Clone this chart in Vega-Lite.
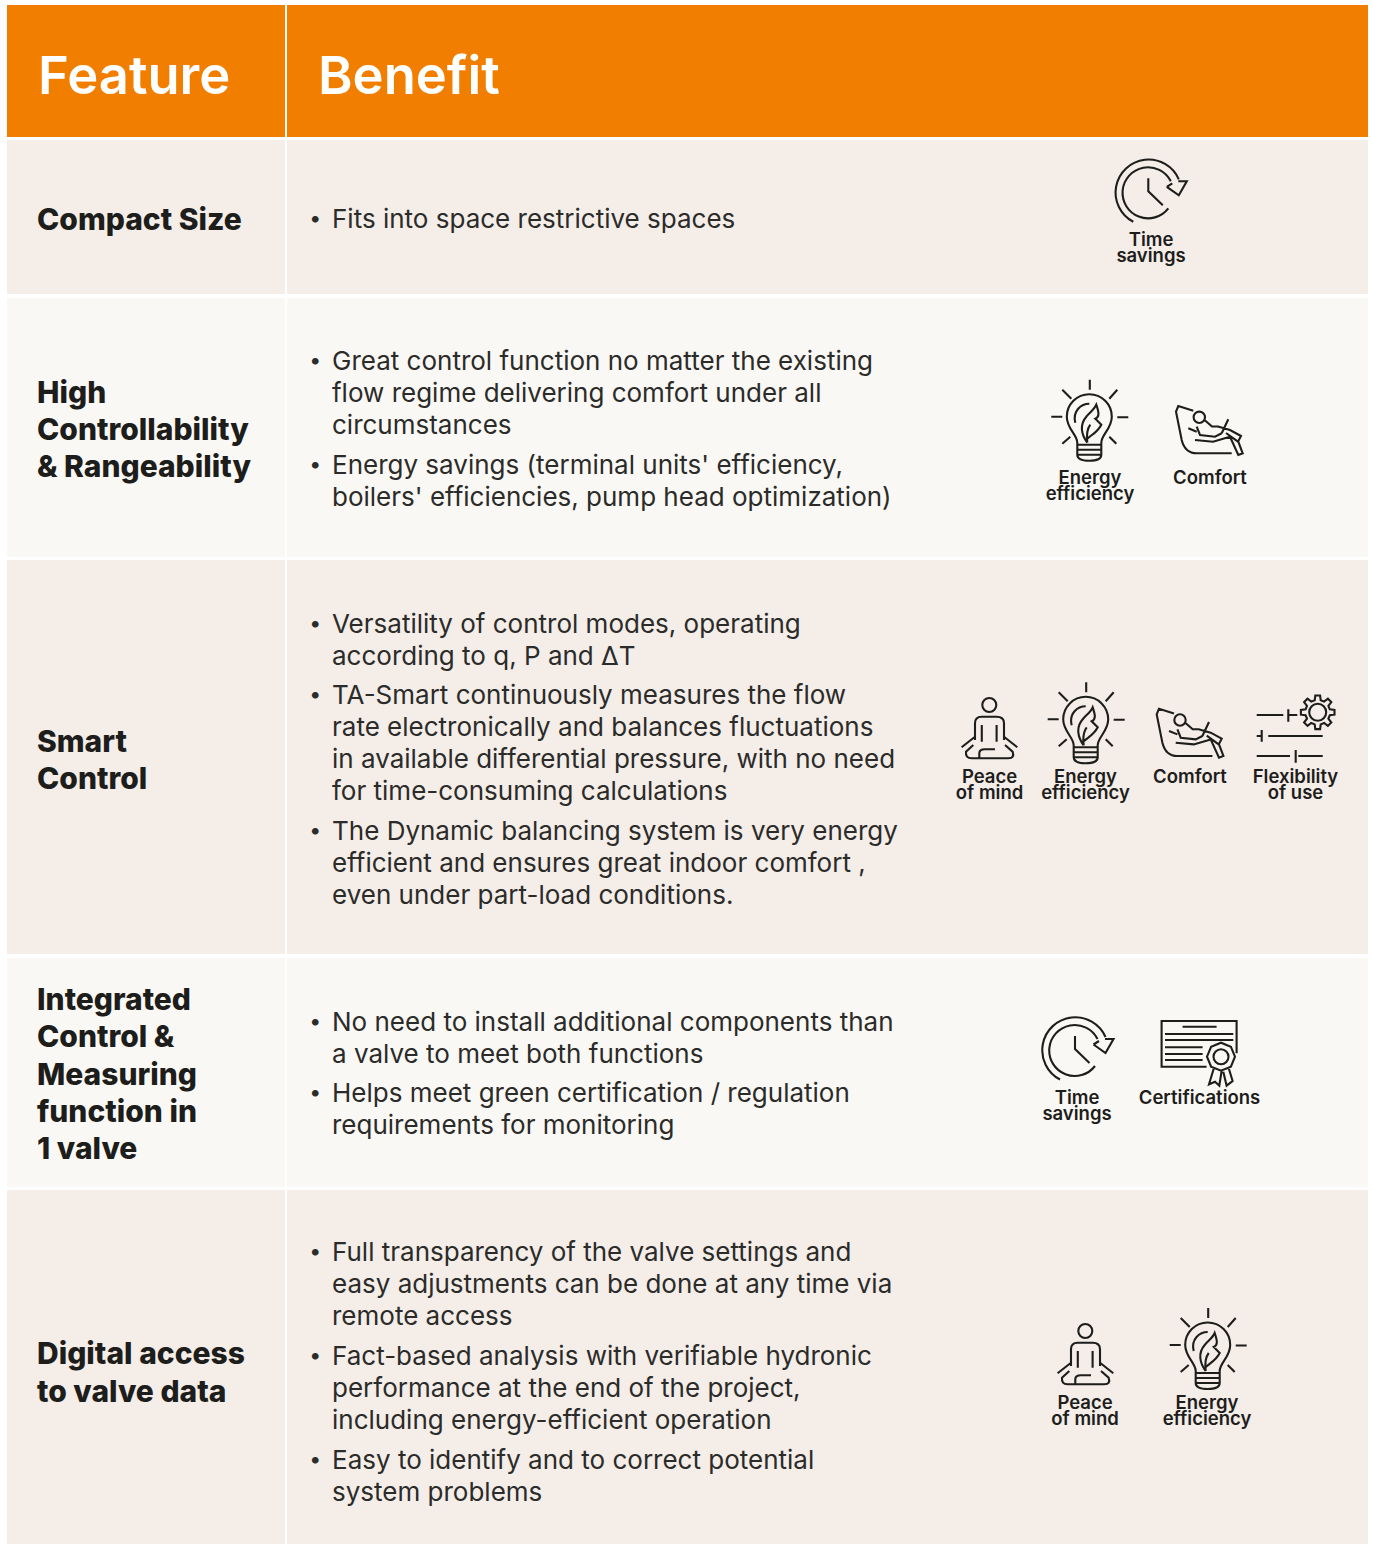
{
"$schema":"https://vega.github.io/schema/vega-lite/v6.json",
"width":1373,"height":1544,"padding":0,
"autosize":{"type":"fit","contains":"padding"},
"background":"#ffffff",
"config":{"view":{"stroke":null}},
"datasets":{
"cells":[
{"x0":7,"x1":285,"y0":5,"y1":137,"tone":"head"},{"x0":287,"x1":1368,"y0":5,"y1":137,"tone":"head"},
{"x0":7,"x1":285,"y0":140,"y1":294,"tone":"dark"},{"x0":287,"x1":1368,"y0":140,"y1":294,"tone":"dark"},
{"x0":7,"x1":285,"y0":298,"y1":557,"tone":"light"},{"x0":287,"x1":1368,"y0":298,"y1":557,"tone":"light"},
{"x0":7,"x1":285,"y0":560,"y1":954,"tone":"dark"},{"x0":287,"x1":1368,"y0":560,"y1":954,"tone":"dark"},
{"x0":7,"x1":285,"y0":958,"y1":1187,"tone":"light"},{"x0":287,"x1":1368,"y0":958,"y1":1187,"tone":"light"},
{"x0":7,"x1":285,"y0":1190,"y1":1544,"tone":"dark"},{"x0":287,"x1":1368,"y0":1190,"y1":1544,"tone":"dark"}
],
"texts":[
{"kind":"head","x":38,"y":78,"t":"Feature"},{"kind":"head","x":318,"y":78,"t":"Benefit"},
{"kind":"feat","x":37,"y":221,"t":"Compact Size"},
{"kind":"feat","x":37,"y":394,"t":"High"},{"kind":"feat","x":37,"y":431,"t":"Controllability"},{"kind":"feat","x":37,"y":468,"t":"& Rangeability"},
{"kind":"feat","x":37,"y":743,"t":"Smart"},{"kind":"feat","x":37,"y":780,"t":"Control"},
{"kind":"feat","x":37,"y":1001,"t":"Integrated"},{"kind":"feat","x":37,"y":1038,"t":"Control &"},{"kind":"feat","x":37,"y":1076,"t":"Measuring"},{"kind":"feat","x":37,"y":1113,"t":"function in"},{"kind":"feat","x":37,"y":1150,"t":"1 valve"},
{"kind":"feat","x":37,"y":1355,"t":"Digital access"},{"kind":"feat","x":37,"y":1393,"t":"to valve data"},
{"kind":"body","x":332,"y":220,"t":"Fits into space restrictive spaces"},
{"kind":"body","x":332,"y":362,"t":"Great control function no matter the existing"},
{"kind":"body","x":332,"y":394,"t":"flow regime delivering comfort under all"},
{"kind":"body","x":332,"y":426,"t":"circumstances"},
{"kind":"body","x":332,"y":466,"t":"Energy savings (terminal units' efficiency,"},
{"kind":"body","x":332,"y":498,"t":"boilers' efficiencies, pump head optimization)"},
{"kind":"body","x":332,"y":625,"t":"Versatility of control modes, operating"},
{"kind":"body","x":332,"y":657,"t":"according to q, P and ΔT"},
{"kind":"body","x":332,"y":696,"t":"TA-Smart continuously measures the flow"},
{"kind":"body","x":332,"y":728,"t":"rate electronically and balances fluctuations"},
{"kind":"body","x":332,"y":760,"t":"in available differential pressure, with no need"},
{"kind":"body","x":332,"y":792,"t":"for time-consuming calculations"},
{"kind":"body","x":332,"y":832,"t":"The Dynamic balancing system is very energy"},
{"kind":"body","x":332,"y":864,"t":"efficient and ensures great indoor comfort ,"},
{"kind":"body","x":332,"y":896,"t":"even under part-load conditions."},
{"kind":"body","x":332,"y":1023,"t":"No need to install additional components than"},
{"kind":"body","x":332,"y":1055,"t":"a valve to meet both functions"},
{"kind":"body","x":332,"y":1094,"t":"Helps meet green certification / regulation"},
{"kind":"body","x":332,"y":1126,"t":"requirements for monitoring"},
{"kind":"body","x":332,"y":1253,"t":"Full transparency of the valve settings and"},
{"kind":"body","x":332,"y":1285,"t":"easy adjustments can be done at any time via"},
{"kind":"body","x":332,"y":1317,"t":"remote access"},
{"kind":"body","x":332,"y":1357,"t":"Fact-based analysis with verifiable hydronic"},
{"kind":"body","x":332,"y":1389,"t":"performance at the end of the project,"},
{"kind":"body","x":332,"y":1421,"t":"including energy-efficient operation"},
{"kind":"body","x":332,"y":1461,"t":"Easy to identify and to correct potential"},
{"kind":"body","x":332,"y":1493,"t":"system problems"},
{"kind":"bullet","x":310,"y":220,"t":"•"},{"kind":"bullet","x":310,"y":362,"t":"•"},{"kind":"bullet","x":310,"y":466,"t":"•"},{"kind":"bullet","x":310,"y":625,"t":"•"},{"kind":"bullet","x":310,"y":696,"t":"•"},{"kind":"bullet","x":310,"y":832,"t":"•"},{"kind":"bullet","x":310,"y":1023,"t":"•"},{"kind":"bullet","x":310,"y":1094,"t":"•"},{"kind":"bullet","x":310,"y":1253,"t":"•"},{"kind":"bullet","x":310,"y":1357,"t":"•"},{"kind":"bullet","x":310,"y":1461,"t":"•"},
{"kind":"label","x":1151,"y":240,"t":"Time"},{"kind":"label","x":1151,"y":256,"t":"savings"},
{"kind":"label","x":1090,"y":478,"t":"Energy"},{"kind":"label","x":1090,"y":494,"t":"efficiency"},{"kind":"label","x":1210,"y":478,"t":"Comfort"},
{"kind":"label","x":989.5,"y":777,"t":"Peace"},{"kind":"label","x":989.5,"y":793,"t":"of mind"},{"kind":"label","x":1085.5,"y":777,"t":"Energy"},{"kind":"label","x":1085.5,"y":793,"t":"efficiency"},{"kind":"label","x":1190,"y":777,"t":"Comfort"},{"kind":"label","x":1295.5,"y":777,"t":"Flexibility"},{"kind":"label","x":1295.5,"y":793,"t":"of use"},
{"kind":"label","x":1077,"y":1098,"t":"Time"},{"kind":"label","x":1077,"y":1114,"t":"savings"},{"kind":"label","x":1199.5,"y":1098,"t":"Certifications"},
{"kind":"label","x":1085,"y":1403,"t":"Peace"},{"kind":"label","x":1085,"y":1419,"t":"of mind"},{"kind":"label","x":1207,"y":1403,"t":"Energy"},{"kind":"label","x":1207,"y":1419,"t":"efficiency"}
],
"icons":[
{"icon":"time","x":1148.3,"y":192.3},{"icon":"energy","x":1089.3,"y":416.7},{"icon":"comfort","x":1210,"y":430},
{"icon":"peace","x":989.3,"y":730},{"icon":"energy","x":1085.7,"y":719.3},{"icon":"comfort","x":1190.7,"y":732.7},{"icon":"flex","x":1295,"y":730},{"icon":"gear","x":1317.7,"y":712.3},
{"icon":"time","x":1075,"y":1050},{"icon":"cert","x":1198.3,"y":1045},
{"icon":"peace","x":1085.3,"y":1356},{"icon":"energy","x":1207.7,"y":1345}
]
},
"encoding":{
"x":{"field":"x","type":"quantitative","axis":null,"scale":{"domain":[0,1373],"nice":false,"zero":false}},
"y":{"field":"y","type":"quantitative","axis":null,"scale":{"domain":[0,1544],"reverse":true,"nice":false,"zero":false}}
},
"layer":[
{"data":{"name":"cells"},"mark":{"type":"rect"},
"encoding":{"x":{"field":"x0","type":"quantitative","axis":null,"scale":{"domain":[0,1373],"nice":false,"zero":false}},"x2":{"field":"x1"},"y":{"field":"y0","type":"quantitative","axis":null,"scale":{"domain":[0,1544],"reverse":true,"nice":false,"zero":false}},"y2":{"field":"y1"},
"color":{"field":"tone","type":"nominal","legend":null,"scale":{"domain":["head","dark","light"],"range":["#f27e00","#f4ede8","#faf8f4"]}}}},
{"data":{"name":"icons"},"mark":{"type":"point","filled":false,"stroke":"#1d1d1b","strokeWidth":2.1,"size":4,"opacity":1},
"encoding":{"shape":{"field":"icon","type":"nominal","legend":null,"scale":{"domain":["time","energy","comfort","peace","flex","gear","cert"],"range":[
"M-15 29.5A33 33 0 1 1 30.5 -13M20 16A25.5 25.5 0 1 1 22.5 -11M18.5 -5.5L30.5 3L38.5 -11L30 -11M18.5 -5.5L24 -9M0 -14V-1L14.5 13",
"M-12 26C-12 18 -22.5 12 -22.5 0A22.5 22.5 0 1 1 22.5 0C22.5 12 12 18 12 26M-12 28H12M-12 33H12M-12 38H12M-12 26V38Q-12 44 0 44Q12 44 12 38V26M0.5 -37V-27M-27 -27L-18 -18M28 -27L20 -18M-38 0H-27M28 0.5H39M-27 27L-19 20M27 27L20 20M-14 6C-17 -6 -8 -13 0 -13M-2 26C-8 18 -10 8 -3 0C0 -4 5 -7 7 -12C9 -6 11 0 6 2L12 8C8 16 2 18 -2 22M-2 26C-3 18 -2 12 1 8",
"M-16.7 -19.3L-31.7 -24L-34 -18.3L-28.3 10Q-25 23.3 -13.3 23.3H21.7M-5.5 -10L2 -3.5L8 -3.5L20 0L31 6L28 11.7L16 3M20 6.7L28.3 25L32.7 23.3L28.3 11.7M18.3 -10.7L11.7 3.3M-13.3 -3.3L-10 5L5 6.7L11.7 3.3M-21.7 -1.7L-13.3 1.7M-15 10L3 11.7L20 6.7M-5 -12.7A5.7 5.7 0 1 1 -16.4 -12.7A5.7 5.7 0 1 1 -5 -12.7",
"M7 -25A7 7 0 1 1 -7 -25A7 7 0 1 1 7 -25M-14.3 10V-6.7Q-14.3 -13.3 -7.7 -13.3H7.3Q14.7 -13.3 14.7 -6.7V10M-14.3 6.7L-27.7 17.3M14.7 6.7L28 17.3M-16 15L-23.3 21.7Q-24 28.3 -17.7 28.3H19Q25.7 28.3 23.3 21.7L15.7 15M-10 28.3V23.3Q-10 19.3 -4.3 19.3H5.7M7.3 -5V11.7M-7.5 -5V11.7",
"M-38.3 -15H-11.7M-6.7 -20.7V-8.3M-6.7 -15H2.3M-38.3 6H-33.3M-33.3 0V11.7M-26.7 6H27.7M-38.3 26H-5M0.7 20V32.7M3.3 26H27.7",
"M12.1 -3L16.8 -2.4L16.8 2.4L12.1 3L10.7 6.4L13.6 10.2L10.2 13.6L6.4 10.7L3 12.1L2.4 16.8L-2.4 16.8L-3 12.1L-6.4 10.7L-10.2 13.6L-13.6 10.2L-10.7 6.4L-12.1 3L-16.8 2.4L-16.8 -2.4L-12.1 -3L-10.7 -6.4L-13.6 -10.2L-10.2 -13.6L-6.4 -10.7L-3 -12.1L-2.4 -16.8L2.4 -16.8L3 -12.1L6.4 -10.7L10.2 -13.6L13.6 -10.2L10.7 -6.4ZM8.5 0A8.5 8.5 0 1 1 -8.5 0A8.5 8.5 0 1 1 8.5 0",
"M8.3 21.7H-36.7V-24H38.3V8.3M-15.7 -18.3H18.3M-33.3 -11H35M-33.3 -5H35M-33.3 2.3H4.3M-33.3 9H4.3M-33.3 15H4.3M36.7 11.7L32.6 21.6L22.7 25.7L12.8 21.6L8.7 11.7L12.8 1.8L22.7 -2.3L32.6 1.8ZM30.2 11.7A7.5 7.5 0 1 0 15.2 11.7A7.5 7.5 0 1 0 30.2 11.7M15.7 22.7L10.7 39.3L16.7 36.7L21 40.7L23.3 26M25 26.7L28.3 40.7L34.3 36L30.3 22.7"
]}}}},
{"data":{"name":"texts"},"transform":[{"filter":"datum.kind==='head'"}],"mark":{"type":"text","align":"left","baseline":"middle","font":"Inter","fontSize":52.5,"fontWeight":600,"fill":"#ffffff"},"encoding":{"text":{"field":"t"}}},
{"data":{"name":"texts"},"transform":[{"filter":"datum.kind==='feat'"}],"mark":{"type":"text","align":"left","baseline":"middle","font":"Inter","fontSize":30,"fontWeight":800,"fill":"#1d1d1b"},"encoding":{"text":{"field":"t"}}},
{"data":{"name":"texts"},"transform":[{"filter":"datum.kind==='body'"}],"mark":{"type":"text","align":"left","baseline":"middle","font":"Inter","fontSize":26,"fill":"#2b2b29"},"encoding":{"text":{"field":"t"}}},
{"data":{"name":"texts"},"transform":[{"filter":"datum.kind==='bullet'"}],"mark":{"type":"text","align":"left","baseline":"middle","font":"Lato","fontSize":18,"fill":"#2b2b29"},"encoding":{"text":{"field":"t"}}},
{"data":{"name":"texts"},"transform":[{"filter":"datum.kind==='label'"}],"mark":{"type":"text","align":"center","baseline":"middle","font":"Inter","fontSize":18.5,"fontWeight":600,"fill":"#1d1d1b"},"encoding":{"text":{"field":"t"}}}
]
}
